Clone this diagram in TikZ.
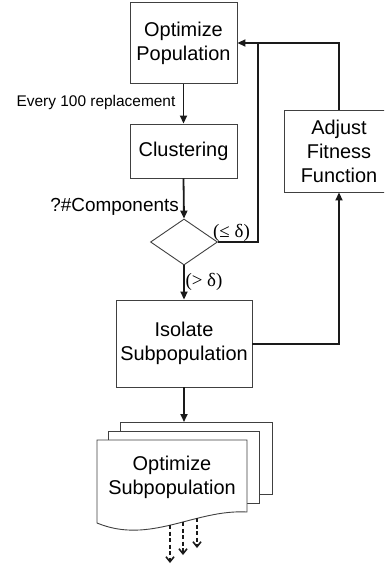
\documentclass[tikz,border=0pt]{standalone}
\usepackage{fontspec}
\setmainfont{Liberation Sans}
\newfontfamily\serifsym{Liberation Serif}
\usetikzlibrary{arrows.meta,shapes.geometric}
\definecolor{boxline}{HTML}{404040}
\definecolor{conline}{HTML}{1A1A1A}
\tikzset{
  boxnode/.style={draw=boxline, line width=0.9bp, fill=white, inner sep=0pt,
    align=center, font=\fontsize{20}{24}\selectfont},
  decision/.style={draw=boxline, line width=0.9bp, diamond, inner sep=0pt,
    minimum width=67bp, minimum height=46bp, aspect=1.45},
  conn/.style={draw=conline, line width=1.8bp},
  arr/.style={conn, -{Triangle[length=8bp,width=7bp]}},
  dasharr/.style={draw=conline, line width=1.6bp, dashed, dash pattern=on 4bp off 2.5bp,
    -{Straight Barb[length=5bp,width=8bp,line width=1.6bp]}},
  lbl/.style={inner sep=0pt, text=black},
  doc/.style={draw=boxline, line width=0.9bp, fill=white}
}
\begin{document}
\begin{tikzpicture}[x=1bp,y=-1bp]
\useasboundingbox (0,0) rectangle (384,567);
\clip (0,0) rectangle (384,567);

% nodes
\node[boxnode, minimum width=107bp, minimum height=81bp] (opt) at (183.5,43) {Optimize\\Population};
\node[boxnode, minimum width=107bp, minimum height=54bp] (clus) at (183.5,151) {Clustering};
\node[decision] (dec) at (184,242) {};
\node[boxnode, minimum width=110bp, minimum height=82bp] (adj) at (339,151) {Adjust\\Fitness\\Function};
\node[boxnode, minimum width=136bp, minimum height=87bp] (iso) at (184,343.5) {Isolate\\Subpopulation};

% stacked documents
\draw[doc] (120,422) rectangle (272,494);
\draw[doc] (108,431) rectangle (259,503);
\draw[doc] (97,440) -- (247,440) -- (247,512)
   .. controls (195,509) and (150,545) .. (97,523) -- cycle;
\coordinate (docTop) at (184,422);
\node[lbl, align=center, font=\fontsize{20}{24}\selectfont] (osub) at (172,477) {Optimize\\Subpopulation};

% labels
\node[lbl, font=\fontsize{15.5}{18}\selectfont] (every) at (96,103) {Every 100 replacement};
\node[lbl, font=\fontsize{19}{22}\selectfont, anchor=east] (comp) at (179,207) {?\#Components};
\node[lbl, font=\serifsym\fontsize{19}{22}\selectfont] (le) at (231.5,233) {(≤ δ)};
\node[lbl, font=\serifsym\fontsize{19}{22}\selectfont] (gt) at (204,282) {(> δ)};

% connectors
\coordinate (jn) at (258,43);
\coordinate (jd) at (258,242);
\coordinate (ja) at (339,43);
\coordinate (ji) at (339,344);
\draw[arr] (opt.south) -- (clus.north);
\draw[arr] (clus.south) -- (dec.north);
\draw[arr] (dec.south) -- (iso.north);
\draw[arr] (dec.east) -- (jd) -- (jn) -- (opt.east);
\draw[conn] (adj.north) -- (ja) -- (jn);
\draw[arr] (iso.east |- ji) -- (ji) -- (adj.south);
\draw[arr] (iso.south) -- (docTop);

% dashed outputs
\coordinate (d1s) at (170,525);
\coordinate (d1e) at (170,563);
\coordinate (d2s) at (183,522);
\coordinate (d2e) at (183,555);
\coordinate (d3s) at (197,518);
\coordinate (d3e) at (197,548);
\draw[dasharr] (d1s) -- (d1e);
\draw[dasharr] (d2s) -- (d2e);
\draw[dasharr] (d3s) -- (d3e);
\end{tikzpicture}
\end{document}
